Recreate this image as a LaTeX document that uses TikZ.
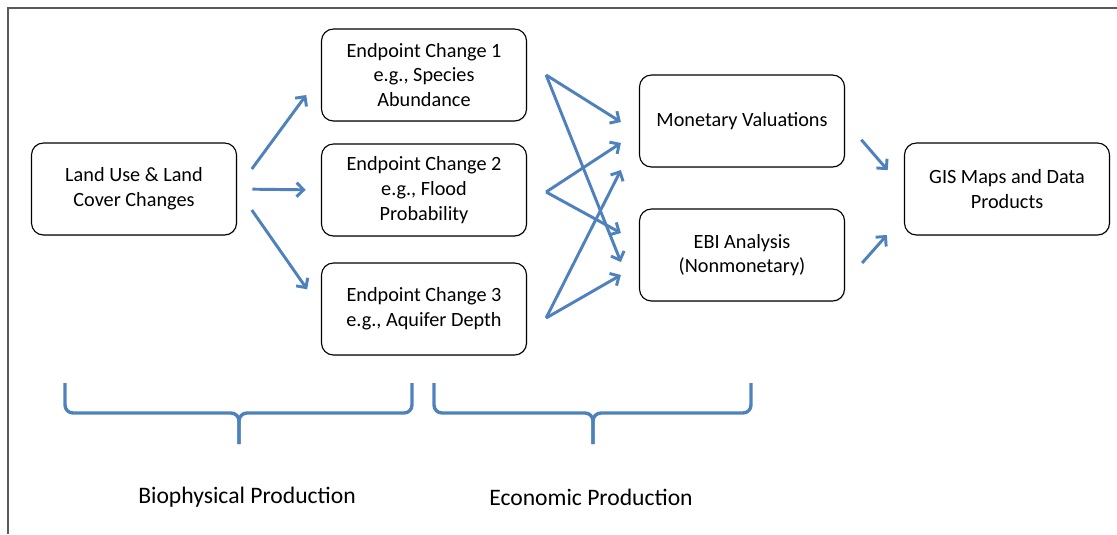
\documentclass[tikz,border=0pt]{standalone}
\usepackage{fontspec}
\setmainfont{Carlito}
\usepackage{xcolor}
\usepackage{tikz}
\usetikzlibrary{arrows.meta,shadows}

\definecolor{flowblue}{HTML}{4F81BD}
\definecolor{framegray}{HTML}{595959}

\begin{document}
\begin{tikzpicture}[x=0.025cm, y=-0.025cm,
    every node/.style={font=\fontsize{14.4}{17.6}\selectfont, align=center},
    box/.style={draw, rounded corners=0.3cm, line width=0.8pt, fill=white, minimum width=5.125cm, minimum height=2.3cm, inner sep=0pt,
        drop shadow={opacity=0.2, shadow xshift=0.6pt, shadow yshift=-0.8pt}},
    flow/.style={draw=flowblue, line width=2.1pt, -{Straight Barb[length=5pt, width=10pt]}},
    bracket/.style={draw=flowblue, line width=2.4pt, rounded corners=0.2cm},
    caption/.style={font=\fontsize{16.8}{20}\selectfont}]
        \useasboundingbox (0,0) rectangle (1117,534);

        % Frame (only top and left edges show)
        \draw[framegray, line width=1.4pt] (8,534) -- (8,8) -- (1117,8);

        % Define nodes
        \node[box] (land) at (134,189) {Land Use \& Land\\Cover Changes};
        \node[box] (e1) at (424,75) {Endpoint Change 1\\e.g., Species\\Abundance};
        \node[box] (e2) at (424,190) {Endpoint Change 2\\e.g., Flood\\Probability};
        \node[box] (e3) at (424,309) {Endpoint Change 3\\e.g., Aquifer Depth};
        \node[box] (mon) at (742,121) {Monetary Valuations};
        \node[box] (ebi) at (742,255) {EBI Analysis\\(Nonmonetary)};
        \node[box] (gis) at (1007,189) {GIS Maps and Data\\Products};

        % Fan out points between the two middle columns
        \coordinate (e1out) at ([xshift=0.475cm]e1.east);
        \coordinate (e2out) at ([xshift=0.475cm, yshift=-0.05cm]e2.east);
        \coordinate (e3out) at ([xshift=0.475cm, yshift=-0.225cm]e3.east);
        \coordinate (mon1) at ([xshift=-0.45cm, yshift=-0.025cm]mon.west);
        \coordinate (mon2) at ([xshift=-0.45cm, yshift=-0.55cm]mon.west);
        \coordinate (mon3) at ([xshift=-0.45cm, yshift=-1.225cm]mon.west);
        \coordinate (ebi1) at ([xshift=-0.45cm, yshift=-0.175cm]ebi.west);
        \coordinate (ebi2) at ([xshift=-0.45cm, yshift=0.55cm]ebi.west);
        \coordinate (ebi3) at ([xshift=-0.45cm, yshift=-0.5cm]ebi.west);
        \coordinate (ebiout) at ([xshift=0.425cm, yshift=-0.2cm]ebi.east);
        \coordinate (gisin) at ([xshift=-0.425cm, yshift=-1.15cm]gis.west);

        % Arrows
        \draw[flow, shorten <=0.62cm, shorten >=0.62cm] (land.east) -- (e1.west);
        \draw[flow, shorten <=0.38cm, shorten >=0.38cm] (land.east) -- (e2.west);
        \draw[flow, shorten <=0.64cm, shorten >=0.6cm] (land.east) -- (e3.west);

        \draw[flow] (e1out) -- (mon1);
        \draw[flow] (e1out) -- (ebi1);
        \draw[flow] (e2out) -- (mon2);
        \draw[flow] (e2out) -- (ebi2);
        \draw[flow] (e3out) -- (mon3);
        \draw[flow] (e3out) -- (ebi3);

        \draw[flow, shorten <=0.62cm, shorten >=0.62cm] (mon.east) -- (gis.west);
        \draw[flow] (ebiout) -- (gisin);

        % Brackets and labels
        \draw[bracket] (65,383) -- (65,413) -- (239,413) -- (239,444);
        \draw[bracket] (412,383) -- (412,413) -- (239,413) -- (239,444);
        \draw[bracket] (434,383) -- (434,413) -- (593,413) -- (593,444);
        \draw[bracket] (751,383) -- (751,413) -- (593,413) -- (593,444);

        \node[caption] (bio) at (247,497) {Biophysical Production};
        \node[caption] (eco) at (591,497) {Economic Production};
    \end{tikzpicture}
\end{document}
